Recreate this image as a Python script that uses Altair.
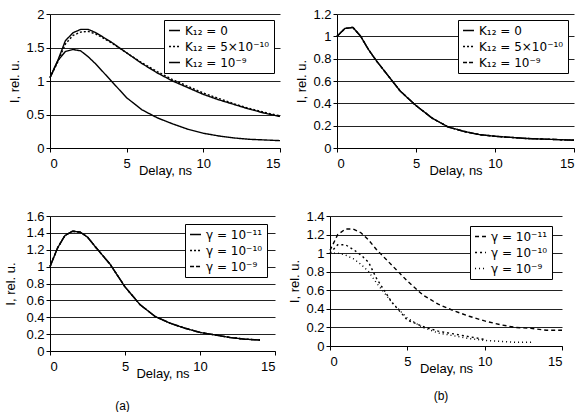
import altair as alt
import pandas as pd

# ---- data ----
t = [0, 0.5, 1, 1.5, 2, 2.5, 3, 4, 5, 6, 7, 8, 9, 10, 11, 12, 13, 14, 15]

k_labels = ["K₁₂ = 0", "K₁₂ = 5×10⁻¹⁰", "K₁₂ = 10⁻⁹"]
g_labels = ["γ = 10⁻¹¹", "γ = 10⁻¹⁰", "γ = 10⁻⁹"]

# top-left panel
tl_k0 = [1.05, 1.30, 1.60, 1.72, 1.77, 1.77, 1.72, 1.58, 1.42, 1.26, 1.12, 1.00, 0.90, 0.80, 0.72, 0.65, 0.58, 0.52, 0.47]
tl_k5 = [1.05, 1.28, 1.55, 1.68, 1.73, 1.74, 1.70, 1.57, 1.42, 1.27, 1.14, 1.02, 0.92, 0.82, 0.74, 0.66, 0.59, 0.53, 0.48]
tl_k9 = [1.05, 1.30, 1.44, 1.47, 1.45, 1.36, 1.25, 1.00, 0.75, 0.57, 0.45, 0.36, 0.28, 0.22, 0.18, 0.15, 0.13, 0.12, 0.11]

# top-right panel (curves coincide)
tr_k0 = [1.00, 1.07, 1.08, 1.00, 0.88, 0.78, 0.69, 0.51, 0.38, 0.27, 0.19, 0.15, 0.12, 0.105, 0.095, 0.085, 0.08, 0.075, 0.07]
tr_k5 = [1.00, 1.07, 1.08, 1.00, 0.88, 0.78, 0.69, 0.51, 0.38, 0.27, 0.19, 0.15, 0.12, 0.105, 0.095, 0.085, 0.08, 0.075, 0.07]
tr_k9 = [1.00, 1.07, 1.08, 1.00, 0.88, 0.78, 0.69, 0.51, 0.38, 0.27, 0.19, 0.15, 0.12, 0.105, 0.095, 0.085, 0.08, 0.075, 0.07]

# bottom-left panel (a) (curves coincide, end at 14 ns)
bl_t = [0, 0.5, 1, 1.5, 2, 2.5, 3, 4, 5, 6, 7, 8, 9, 10, 11, 12, 13, 14]
bl_g11 = [1.00, 1.22, 1.37, 1.42, 1.41, 1.35, 1.24, 1.03, 0.76, 0.55, 0.41, 0.33, 0.27, 0.22, 0.19, 0.16, 0.14, 0.13]
bl_g10 = [1.00, 1.22, 1.37, 1.42, 1.41, 1.35, 1.24, 1.03, 0.76, 0.55, 0.41, 0.33, 0.27, 0.22, 0.19, 0.16, 0.14, 0.13]
bl_g9 = [1.00, 1.22, 1.37, 1.42, 1.41, 1.35, 1.24, 1.03, 0.76, 0.55, 0.41, 0.33, 0.27, 0.22, 0.19, 0.16, 0.14, 0.13]

# bottom-right panel (b)
br_t11 = t
br_g11 = [1.03, 1.20, 1.26, 1.26, 1.22, 1.14, 1.04, 0.87, 0.70, 0.55, 0.45, 0.38, 0.32, 0.27, 0.23, 0.20, 0.19, 0.17, 0.17]
br_t10 = [0, 0.5, 1, 1.5, 2, 2.5, 3, 4, 5, 6, 7, 8, 9, 10]
br_g10 = [1.00, 1.09, 1.09, 1.04, 0.98, 0.90, 0.73, 0.47, 0.28, 0.21, 0.16, 0.13, 0.10, 0.07]
br_t9 = [0, 0.5, 1, 1.5, 2, 2.5, 3, 4, 5, 6, 7, 8, 9, 10, 11, 12, 13]
br_g9 = [1.00, 1.00, 0.98, 0.94, 0.88, 0.80, 0.68, 0.47, 0.30, 0.20, 0.14, 0.11, 0.08, 0.06, 0.05, 0.04, 0.04]

FONT = "Liberation Sans"
LFONT = "DejaVu Sans"


def build(series, labels, dashes, ydom, yticks, w, h, caption=None, cap_dx=0, cap_off=14,
          ytp=4, leg_off=2):
    rows = []
    for (xs, ys), lab in zip(series, labels):
        for x, y in zip(xs, ys):
            rows.append({"t": x, "I": y, "s": lab})
    df = pd.DataFrame(rows)
    props = dict(width=w, height=h)
    if caption:
        props["title"] = alt.TitleParams(caption, orient="bottom", anchor="middle", dx=cap_dx,
                                         fontSize=12, fontWeight="normal", font=FONT,
                                         offset=cap_off)
    ax_common = dict(domainColor="black", tickColor="black", labelColor="black", titleColor="black",
                     labelFont=FONT, titleFont=FONT, labelFontSize=13, titleFontSize=13,
                     titleFontWeight="normal", tickSize=4)
    return alt.Chart(df).mark_line(color="black", strokeWidth=1.4).encode(
        x=alt.X("t:Q", scale=alt.Scale(domain=[0, 15], nice=False),
                axis=alt.Axis(values=[0, 5, 10, 15], title="Delay, ns", grid=False,
                              titleY=16, titleBaseline="top", labelPadding=5, **ax_common)),
        y=alt.Y("I:Q", scale=alt.Scale(domain=ydom, nice=False),
                axis=alt.Axis(values=yticks, title="I, rel. u.", grid=True, format=".1~f",
                              gridColor="#222", gridWidth=1, titlePadding=ytp, **ax_common)),
        strokeDash=alt.StrokeDash("s:N", scale=alt.Scale(domain=labels, range=dashes),
                                  legend=alt.Legend(title=None, orient="top-right",
                                                    strokeColor="black", fillColor="white",
                                                    padding=4, labelFontSize=12, labelFont=LFONT,
                                                    labelColor="black",
                                                    symbolStrokeColor="black", symbolStrokeWidth=1.5,
                                                    symbolSize=120, rowPadding=3, offset=leg_off)),
        detail="s:N",
    ).properties(**props)


p1 = build([(t, tl_k0), (t, tl_k5), (t, tl_k9)], k_labels,
           [[1, 0], [2, 2], [1, 0]], [0, 2], [0, 0.5, 1, 1.5, 2], 230, 134, leg_off=6)
p2 = build([(t, tr_k0), (t, tr_k5), (t, tr_k9)], k_labels,
           [[1, 0], [2, 2], [4, 2]], [0, 1.2], [0, 0.2, 0.4, 0.6, 0.8, 1, 1.2], 237, 134, leg_off=6)
p3 = build([(bl_t, bl_g11), (bl_t, bl_g10), (bl_t, bl_g9)], g_labels,
           [[1, 0], [2, 2], [4, 2]], [0, 1.6], [0, 0.2, 0.4, 0.6, 0.8, 1, 1.2, 1.4, 1.6], 225, 135,
           caption="(a)", cap_dx=-40, cap_off=21, ytp=8, leg_off=8)
p4 = build([(br_t11, br_g11), (br_t10, br_g10), (br_t9, br_g9)], g_labels,
           [[4, 3], [2, 3], [1, 3]], [0, 1.4], [0, 0.2, 0.4, 0.6, 0.8, 1, 1.2, 1.4], 232, 130,
           caption="(b)", cap_dx=-5, cap_off=16, leg_off=10)

top = alt.hconcat(p1, p2, spacing=12).resolve_scale(strokeDash="independent").resolve_legend(strokeDash="independent")
bottom = alt.hconcat(p3, p4, spacing=12).resolve_scale(strokeDash="independent").resolve_legend(strokeDash="independent")

chart = alt.vconcat(top, bottom, spacing=33).resolve_scale(
    strokeDash="independent"
).resolve_legend(strokeDash="independent").properties(
    padding={"left": 4, "top": 8, "right": 2, "bottom": 2},
    background="white",
).configure_view(stroke=None)

chart.save("out.html", embed_options={"renderer": "svg", "actions": False})
